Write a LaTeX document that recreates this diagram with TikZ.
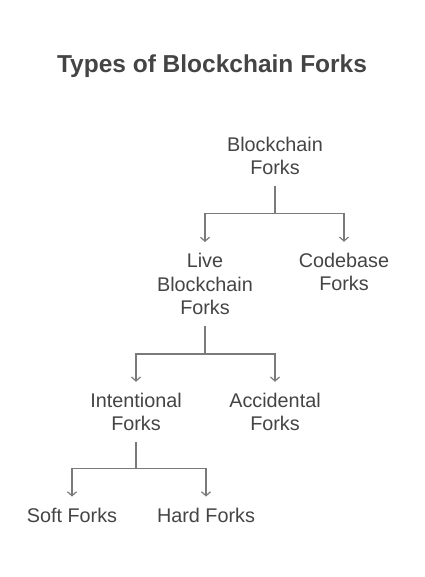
\documentclass[tikz,border=0pt]{standalone}
\usepackage{fontspec}
\setmainfont{Liberation Sans}
\usetikzlibrary{arrows.meta}
\definecolor{inkgray}{HTML}{444444}
\definecolor{linegray}{HTML}{7A7A7A}
\begin{document}
\begin{tikzpicture}[x=1pt,y=-1pt,
  title/.style={font=\fontsize{24.5}{29}\selectfont\bfseries,color=inkgray,anchor=base},
  fork/.style={font=\fontsize{19.8}{23.5}\selectfont,color=inkgray,align=center,
    anchor=center,inner xsep=2pt,inner ysep=11pt},
  link/.style={draw=linegray,line width=1.2pt},
  arr/.style={link,-{Straight Barb[length=4pt,width=9pt]}}]
  \useasboundingbox (0,0) rectangle (424,577);

  \node[title] (ttl) at (212,73) {Types of Blockchain Forks};

  % top level
  \node[fork] (bf) at (275,156) {Blockchain\\Forks};
  \node[fork] (lbf) at (205,284) {Live\\Blockchain\\Forks};
  \node[fork] (cbf) at (344,272) {Codebase\\Forks};
  \draw[link] (bf.south) -- ++(0,27) coordinate (j1);
  \draw[arr] (j1) -| (lbf.north);
  \draw[arr] (j1) -| (cbf.north);

  % live forks
  \node[fork] (inf) at (136,412) {Intentional\\Forks};
  \node[fork] (acf) at (275,412) {Accidental\\Forks};
  \draw[link] (lbf.south) -- ++(0,28) coordinate (j2);
  \draw[arr] (j2) -| (inf.north);
  \draw[arr] (j2) -| (acf.north);

  % intentional forks
  \node[fork] (sof) at (72,515) {Soft Forks};
  \node[fork] (haf) at (206,515) {Hard Forks};
  \draw[link] (inf.south) -- ++(0,26) coordinate (j3);
  \draw[arr] (j3) -| (sof.north);
  \draw[arr] (j3) -| (haf.north);

\end{tikzpicture}
\end{document}
